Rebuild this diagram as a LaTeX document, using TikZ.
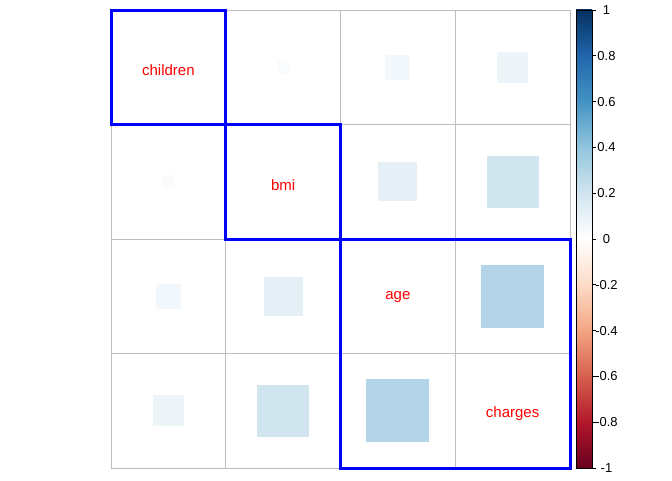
\documentclass[tikz,border=0pt]{standalone}
\usepackage{fontspec}
\setmainfont{Liberation Sans}
\definecolor{cb0}{HTML}{67001F}
\definecolor{cb1}{HTML}{B2182B}
\definecolor{cb2}{HTML}{D6604D}
\definecolor{cb3}{HTML}{F4A582}
\definecolor{cb4}{HTML}{FDDBC7}
\definecolor{cb5}{HTML}{FFFFFF}
\definecolor{cb6}{HTML}{D1E5F0}
\definecolor{cb7}{HTML}{92C5DE}
\definecolor{cb8}{HTML}{4393C3}
\definecolor{cb9}{HTML}{2166AC}
\definecolor{cb10}{HTML}{053061}
\definecolor{rA}{HTML}{F9FBFD}
\definecolor{rB}{HTML}{F2F7FB}
\definecolor{rC}{HTML}{EDF5F9}
\definecolor{rD}{HTML}{E4EFF6}
\definecolor{rE}{HTML}{D1E5EF}
\definecolor{rF}{HTML}{B4D5E7}
\definecolor{gridgray}{HTML}{BEBEBE}
\tikzset{
    varname/.style={text=red, font=\fontsize{15}{18}\selectfont},
    ticklabel/.style={font=\fontsize{13}{15}\selectfont},
    groupbox/.style={draw=blue, line width=3pt}
}

\begin{document}
\begin{tikzpicture}[x=1pt,y=-1pt]
    \useasboundingbox (0,0) rectangle (672,480);
    % correlation squares: row/col/size/colour
    \foreach \r/\c/\s/\col in {0/1/13/rA, 0/2/25/rB, 0/3/31/rC,
                              1/0/13/rA, 1/2/39/rD, 1/3/52/rE,
                              2/0/25/rB, 2/1/39/rD, 2/3/63/rF,
                              3/0/31/rC, 3/1/52/rE, 3/2/63/rF}
        \fill[\col] ({111+114.75*(\c+0.5)-\s/2},{10+114.5*(\r+0.5)-\s/2})
            rectangle ++(\s,\s);
    % grid
    \foreach \i in {0,...,4} {
        \draw[gridgray, line width=1pt] ({111+114.75*\i},10) -- ({111+114.75*\i},468);
        \draw[gridgray, line width=1pt] (111,{10+114.5*\i}) -- (570,{10+114.5*\i});
    }
    % groups
    \draw[groupbox] (111,10) rectangle (225.75,124.5);
    \draw[groupbox] (225.75,124.5) rectangle (340.5,239);
    \draw[groupbox] (340.5,239) rectangle (570,468);
    % variable names
    \node[varname] (children) at (168.4,70.5) {children};
    \node[varname] (bmi) at (283.1,185) {bmi};
    \node[varname] (age) at (397.9,297.5) {age};
    \node[varname] (charges) at (512.6,413.5) {charges};
    % colour bar
    \foreach \i [evaluate=\i as \j using int(\i+1)] in {0,...,9}
        \shade[bottom color=cb\i, top color=cb\j]
            (576,{468-45.8*\i+0.3}) rectangle (592,{468-45.8*(\i+1)-0.3});
    \draw[line width=0.8pt] (576,10) rectangle (592,468);
    \foreach \v in {1,0.8,0.6,0.4,0.2,0,-0.2,-0.4,-0.6,-0.8,-1}
        \draw[line width=0.8pt] (592,{239-229*\v}) -- (596,{239-229*\v})
            node[ticklabel, anchor=center, xshift=10.5pt] {\v};
\end{tikzpicture}
\end{document}
